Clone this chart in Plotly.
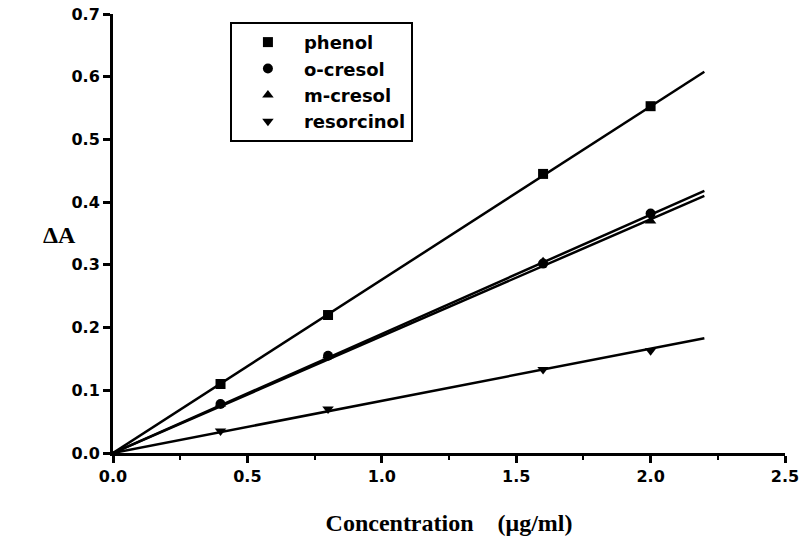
import plotly.graph_objects as go

conc = [0.4, 0.8, 1.6, 2.0]
phenol = [0.110, 0.220, 0.445, 0.553]
o_cresol = [0.078, 0.155, 0.302, 0.382]
m_cresol = [0.078, 0.155, 0.305, 0.370]
resorcinol = [0.035, 0.070, 0.133, 0.163]

fit_x = [0.0, 2.2]
phenol_fit = [0.0, 0.608]
o_cresol_fit = [0.0, 0.418]
m_cresol_fit = [0.0, 0.410]
resorcinol_fit = [0.0, 0.183]

names = ["phenol", "o-cresol", "m-cresol", "resorcinol"]
symbols = ["square", "circle", "triangle-up", "triangle-down"]
series = [phenol, o_cresol, m_cresol, resorcinol]
fits = [phenol_fit, o_cresol_fit, m_cresol_fit, resorcinol_fit]

xticks = [0, 0.5, 1.0, 1.5, 2.0, 2.5]
yticks = [0, 0.1, 0.2, 0.3, 0.4, 0.5, 0.6, 0.7]

fig = go.Figure()
for f in fits:
    fig.add_trace(go.Scatter(x=fit_x, y=f, mode="lines",
                             line=dict(color="black", width=2.5),
                             showlegend=False, hoverinfo="skip"))
for n, s, ys in zip(names, symbols, series):
    fig.add_trace(go.Scatter(x=conc, y=ys, mode="markers", name=n,
                             marker=dict(symbol=s, size=10, color="black")))

tickfont = dict(family="DejaVu Sans", size=16, color="black", weight="bold")

fig.update_layout(
    width=803, height=548,
    paper_bgcolor="white", plot_bgcolor="white",
    margin=dict(l=113, r=18, t=14, b=95, autoexpand=False),
    showlegend=True,
    legend=dict(x=0.174, y=0.982, xanchor="left", yanchor="top",
                bordercolor="black", borderwidth=2, bgcolor="white",
                font=dict(family="DejaVu Sans", size=18, color="black", weight="bold"),
                itemwidth=62, tracegroupgap=0),
    font=dict(family="DejaVu Sans", color="black"),
)
fig.update_xaxes(range=[0, 2.5], tickvals=xticks, tickformat=".1f",
                 ticks="outside", ticklen=7, tickwidth=3, tickcolor="black",
                 minor=dict(tickvals=[0.25, 0.75, 1.25, 1.75, 2.25], ticks="outside", ticklen=4, tickwidth=2, tickcolor="black"),
                 showline=True, linecolor="black", linewidth=3, showgrid=False, zeroline=False,
                 automargin=False, tickfont=tickfont,
                 title=dict(text="Concentration    (μg/ml)",
                            font=dict(family="Liberation Serif", size=24, color="black", weight="bold"),
                            standoff=29))
fig.update_yaxes(range=[0, 0.7], tickvals=yticks, tickformat=".1f",
                 ticks="outside", ticklen=7, tickwidth=3, tickcolor="black",
                 showline=True, linecolor="black", linewidth=3, showgrid=False, zeroline=False,
                 automargin=False, tickfont=tickfont)
fig.add_annotation(text="ΔA", xref="paper", yref="paper", x=-0.079, y=0.497,
                   showarrow=False, xanchor="center", yanchor="middle",
                   font=dict(family="Liberation Serif", size=24, color="black", weight="bold"))

fig.write_html("out.html", config={"displayModeBar": False},
               post_script="document.body.style.margin='0px';")
